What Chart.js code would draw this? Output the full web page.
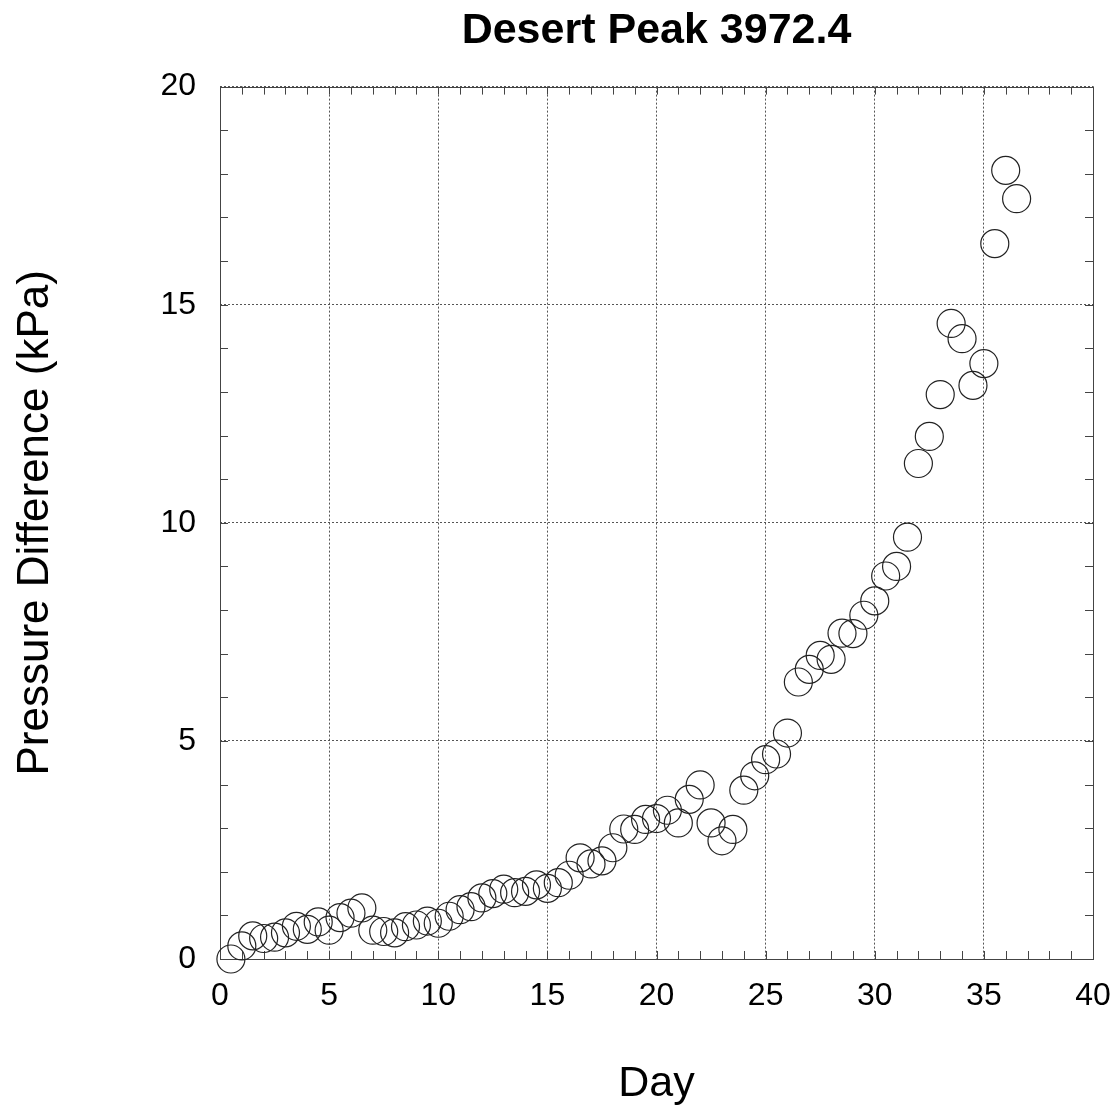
<!DOCTYPE html>
<html>
<head>
<meta charset="utf-8">
<script src="https://cdn.jsdelivr.net/npm/chart.js@4/dist/chart.umd.min.js"></script>
<style>
  html, body { margin: 0; padding: 0; background: #fff; }
  #wrap { width: 1119px; height: 1114px; }
</style>
</head>
<body>
<div id="wrap"><canvas id="chart" width="1119" height="1114"></canvas></div>
<script>
// day of the reading and the pressure difference
const days = [0.5, 1, 1.5, 2, 2.5, 3, 3.5, 4, 4.5, 5, 5.5, 6, 6.5, 7, 7.5, 8, 8.5, 9, 9.5, 10,
  10.5, 11, 11.5, 12, 12.5, 13, 13.5, 14, 14.5, 15, 15.5, 16, 16.5, 17, 17.5, 18, 18.5, 19, 19.5, 20,
  20.5, 21, 21.5, 22, 22.5, 23, 23.5, 24, 24.5, 25, 25.5, 26, 26.5, 27, 27.5, 28, 28.5, 29, 29.5, 30,
  30.5, 31, 31.5, 32, 32.5, 33, 33.5, 34, 34.5, 35, 35.5, 36, 36.5];
const pressure = [0, 0.3, 0.53, 0.47, 0.5, 0.6, 0.75, 0.68, 0.85, 0.66, 0.95, 1.05, 1.17, 0.66, 0.63, 0.6, 0.74, 0.78, 0.87, 0.82,
  0.98, 1.13, 1.2, 1.4, 1.5, 1.6, 1.52, 1.55, 1.7, 1.62, 1.75, 1.92, 2.32, 2.18, 2.25, 2.55, 2.98, 2.97, 3.2, 3.22,
  3.41, 3.12, 3.66, 3.99, 3.12, 2.71, 2.97, 3.87, 4.2, 4.57, 4.7, 5.18, 6.35, 6.64, 6.96, 6.87, 7.47, 7.46, 7.88, 8.21,
  8.78, 9.0, 9.67, 11.36, 11.98, 12.94, 14.57, 14.22, 13.15, 13.65, 16.4, 18.08, 17.43];
const xTicks = [0, 5, 10, 15, 20, 25, 30, 35, 40];
const yTicks = [0, 5, 10, 15, 20];
const xMinor = [0, 1, 2, 3, 4, 5, 6, 7, 8, 9, 10, 11, 12, 13, 14, 15, 16, 17, 18, 19, 20,
  21, 22, 23, 24, 25, 26, 27, 28, 29, 30, 31, 32, 33, 34, 35, 36, 37, 38, 39, 40];
const yMinor = [0, 1, 2, 3, 4, 5, 6, 7, 8, 9, 10, 11, 12, 13, 14, 15, 16, 17, 18, 19, 20];

const FONT = 'Liberation Sans, Arial, Helvetica, sans-serif';
const frameColor = '#444';

// white background, solid frame and inward ticks on all four sides
const framePlugin = {
  id: 'frame',
  beforeDraw(chart) {
    const ctx = chart.ctx;
    ctx.save();
    ctx.fillStyle = '#fff';
    ctx.fillRect(0, 0, chart.width, chart.height);
    ctx.restore();
  },
  beforeDatasetsDraw(chart) {
    const ctx = chart.ctx;
    const a = chart.chartArea;
    const xs = chart.scales.x, ys = chart.scales.y;
    const len = 8;
    ctx.save();
    ctx.strokeStyle = frameColor;
    ctx.lineWidth = 1;
    ctx.setLineDash([]);
    ctx.beginPath();
    xMinor.forEach(v => {
      const px = Math.round(xs.getPixelForValue(v)) + 0.5;
      ctx.moveTo(px, a.bottom); ctx.lineTo(px, a.bottom - len);
      ctx.moveTo(px, a.top); ctx.lineTo(px, a.top + len);
    });
    yMinor.forEach(v => {
      const py = Math.round(ys.getPixelForValue(v)) + 0.5;
      ctx.moveTo(a.left, py); ctx.lineTo(a.left + len, py);
      ctx.moveTo(a.right, py); ctx.lineTo(a.right - len, py);
    });
    ctx.stroke();
    ctx.strokeRect(Math.round(a.left) + 0.5, Math.round(a.top) + 0.5,
      Math.round(a.right - a.left), Math.round(a.bottom - a.top));
    ctx.restore();
  }
};

const chart = new Chart(document.getElementById('chart'), {
  type: 'scatter',
  data: {
    datasets: [{
      label: 'Desert Peak',
      data: days.map((d, i) => ({ x: d, y: pressure[i] })),
      pointStyle: 'circle',
      pointRadius: 14,
      pointHoverRadius: 14,
      borderColor: '#222',
      borderWidth: 1.2,
      backgroundColor: 'rgba(0,0,0,0)',
      clip: false
    }]
  },
  options: {
    responsive: false,
    animation: false,
    layout: { padding: { left: 0, right: 26, top: 0, bottom: 0 } },
    plugins: {
      legend: { display: false },
      tooltip: { enabled: false },
      title: {
        display: true,
        fullSize: false,
        text: 'Desert Peak 3972.4',
        color: '#000',
        font: { family: FONT, size: 43, weight: 'bold' },
        padding: { top: 5, bottom: 30 }
      }
    },
    scales: {
      x: {
        type: 'linear',
        min: 0,
        max: 40,
        afterBuildTicks: s => { s.ticks = xTicks.map(v => ({ value: v })); },
        afterFit: s => { s.height = 155; s.paddingRight = 0; s.paddingLeft = 0; },
        ticks: {
          color: '#000',
          font: { family: FONT, size: 32 },
          padding: 18,
          maxRotation: 0
        },
        grid: { color: '#555', lineWidth: 1, drawTicks: false },
        border: { display: false, dash: [2, 2] },
        title: {
          display: true,
          text: 'Day',
          color: '#000',
          font: { family: FONT, size: 43 },
          padding: { top: 0, bottom: 4 }
        }
      },
      y: {
        type: 'linear',
        min: 0,
        max: 20,
        afterBuildTicks: s => { s.ticks = yTicks.map(v => ({ value: v })); },
        afterFit: s => { s.width = 220; s.paddingTop = 0; s.paddingBottom = 0; },
        ticks: {
          color: '#000',
          font: { family: FONT, size: 32 },
          padding: 24
        },
        grid: { color: '#555', lineWidth: 1, drawTicks: false },
        border: { display: false, dash: [2, 2] },
        title: {
          display: true,
          text: 'Pressure Difference (kPa)',
          color: '#000',
          font: { family: FONT, size: 44 },
          padding: { top: 9, bottom: 0 }
        }
      }
    }
  },
  plugins: [framePlugin]
});
</script>
</body>
</html>
